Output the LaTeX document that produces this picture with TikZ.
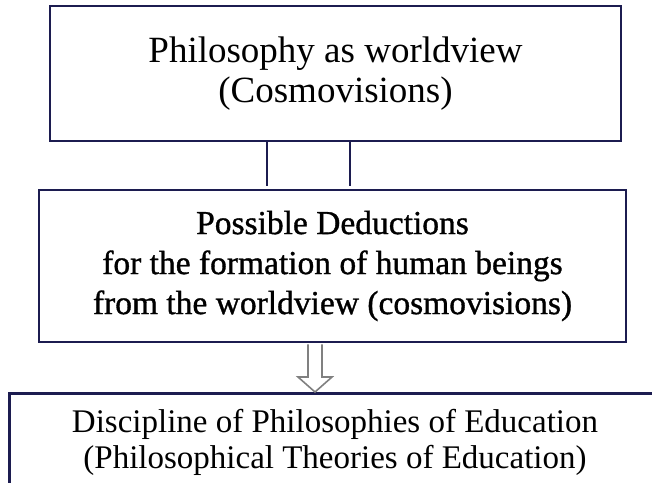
\documentclass[tikz,border=0pt]{standalone}
\usepackage{fontspec}
\setmainfont{Liberation Serif}
\newfontfamily\heavyserif[FakeBold=1]{Liberation Serif}
\usetikzlibrary{calc}
\definecolor{navy}{RGB}{28,28,80}
\definecolor{arrowgray}{RGB}{128,128,128}
\begin{document}
\begin{tikzpicture}[x=1pt,y=-1pt,
  box/.style={draw=navy, line width=2.5pt, inner sep=0pt, align=center, fill=white},
  link/.style={draw=navy, line width=2pt},
  hollow/.style={draw=arrowgray, line width=1.6pt, fill=white, line join=miter}]
\useasboundingbox (0,0) rectangle (652,482);
\begin{scope}
\clip (0,0) rectangle (652,482);
\node[box, minimum width=571pt, minimum height=135pt,
      font=\fontsize{37}{40}\selectfont] (top) at (335.5,73.5)
  {Philosophy as worldview\\(Cosmovisions)};
\node[box, anchor=north west, minimum width=654pt, minimum height=140pt] (bot) at (8,392) {};
\node[align=center, inner sep=0pt, font=\fontsize{33}{36}\selectfont] (bottext) at (335,442)
  {Discipline of Philosophies of Education\\ (Philosophical Theories of Education)};
\coordinate (ax) at (315,0);
\coordinate (l1) at (267,0);
\coordinate (l2) at (350,0);
\node[box, minimum width=587pt, minimum height=152pt,
      font=\heavyserif\fontsize{33.5}{40}\selectfont] (mid) at (332.5,266)
  {Possible Deductions\\for the formation of human beings\\from the worldview (cosmovisions)};
\path (mid.south -| ax) coordinate (a0) (bot.north -| ax) coordinate (a1);
\draw[hollow] ($(a0)+(-7,1.2)$) -- ($(a1)+(-7,-15)$) -- ($(a1)+(-17,-15)$) -- (a1)
  -- ($(a1)+(17,-15)$) -- ($(a1)+(7,-15)$) -- ($(a0)+(7,1.2)$);
\draw[link, shorten >=2.5pt] (top.south -| l1) -- (mid.north -| l1);
\draw[link, shorten >=2.5pt] (top.south -| l2) -- (mid.north -| l2);
\end{scope}
\end{tikzpicture}
\end{document}
